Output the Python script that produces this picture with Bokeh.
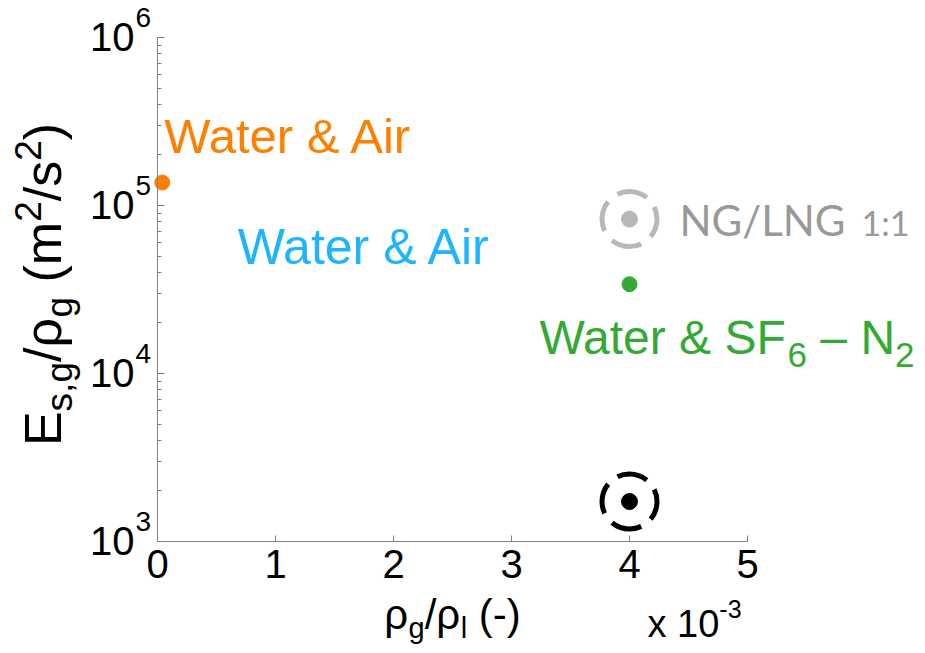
import math
from bokeh.plotting import figure
from bokeh.models import Label, Range1d, FixedTicker
from bokeh.embed import file_html
from bokeh.resources import INLINE

# ---- data (x in units of 1e-3) ----
orange_x = [0.04]
orange_y = [1.37e5]
green_x = [4.0]
green_y = [3.4e4]
gray_x = [4.0]
gray_y = [8.3e4]
black_x = [4.0]
black_y = [1.73e3]
x_ticks = [0, 1, 2, 3, 4, 5]
y_ticks = [1e3, 1e4, 1e5, 1e6]
y_tick_exps = ["3", "4", "5", "6"]

ORANGE = "#FF8000"
BLUE = "#1EB4FF"
GREEN = "#33AA33"
GRAY_TXT = "#999999"
GRAY_CIR = "#B8B8B8"
FONT = "Liberation Sans"

W = {'E': .667, 's': .5, ',': .278, 'g': .556, '/': .278, 'ρ': .578, ' ': .278, '(': .333,
     'm': .833, '2': .556, ')': .333, 'l': .222, '-': .333, 'x': .5, '1': .556, '0': .556,
     '3': .556, 'W': .944, 'a': .556, 't': .278, 'e': .556, 'r': .333, '&': .667, 'S': .667,
     'F': .611, '6': .556, '–': .556, 'N': .722, 'A': .667, 'i': .222}
K = 0.36  # observed: Label anchor with "alphabetic" lies this many em above the baseline


def tw(t, size):
    return sum(W.get(c, .556) for c in t) * size


# canvas and where the axes box sits on it (pixels)
CW, CH = 925, 653
L, R, T, B = 157, 747, 37, 541
X0, X1 = 0.0, 5.0
D0, D1 = 3.0, 6.0
xs = X0 - L / (R - L) * (X1 - X0)
xe = X1 + (CW - R) / (R - L) * (X1 - X0)
ys = D0 - (CH - B) / (B - T) * (D1 - D0)
ye = D1 + T / (B - T) * (D1 - D0)

p = figure(width=CW, height=CH, x_range=Range1d(xs, xe), y_range=Range1d(10 ** ys, 10 ** ye),
           y_axis_type="log", output_backend="svg", toolbar_location=None,
           min_border_left=0, min_border_right=0, min_border_top=0, min_border_bottom=0)
p.grid.visible = False
p.outline_line_color = None
p.background_fill_color = "white"
p.border_fill_color = "white"

ax = p.xaxis[0]
ax.fixed_location = 10 ** D0
ax.bounds = (X0, X1)
ax.ticker = FixedTicker(ticks=x_ticks)
ax.major_tick_in = 6
ax.major_tick_out = 0
ax.minor_tick_line_color = None
ax.axis_line_color = "#808080"
ax.major_tick_line_color = "#808080"
ax.major_label_text_font = FONT
ax.major_label_text_font_size = "40px"
ax.major_label_text_color = "black"
ax.major_label_standoff = 8

ay = p.yaxis[0]
ay.fixed_location = X0
ay.bounds = (10 ** D0, 10 ** D1)
ay.major_tick_in = 7
ay.major_tick_out = 0
ay.minor_tick_in = 4
ay.minor_tick_out = 0
ay.axis_line_color = "#808080"
ay.major_tick_line_color = "#808080"
ay.minor_tick_line_color = "#808080"
ay.major_label_text_alpha = 0

# points
p.scatter(orange_x, orange_y, size=15, color=ORANGE)
p.scatter(green_x, green_y, size=15, color=GREEN)
p.scatter(gray_x, gray_y, size=55, fill_color=None, line_color=GRAY_CIR, line_width=5,
          line_dash="31 12", line_dash_offset=12)
p.scatter(gray_x, gray_y, size=16, color=GRAY_CIR)
p.scatter(black_x, black_y, size=55, fill_color=None, line_color="black", line_width=5,
          line_dash="31 12", line_dash_offset=12)
p.scatter(black_x, black_y, size=16, color="black")


def lab(text, x, y, xo, yo, size, color="black", font=FONT, rotate=False, align="left"):
    """xo/yo place the alphabetic baseline start (pixels, y up) relative to (x, y)."""
    if rotate:
        xo, yo, angle = xo - K * size, yo, math.pi / 2
    else:
        xo, yo, angle = xo, yo + K * size, 0.0
    p.add_layout(Label(x=x, y=y, x_offset=xo, y_offset=yo, text=text, text_font=font,
                       text_font_size=f"{size}px", text_color=color, angle=angle,
                       text_align=align, text_baseline="alphabetic"))


def compose(pieces, x, y, xo, yo, color="black", font=FONT, rotate=False):
    cur = 0.0
    for t, size, shift in pieces:
        s = t.lstrip(" ")
        cur += tw(t[:len(t) - len(s)], size)
        if rotate:
            lab(s, x, y, xo - shift, yo + cur, size, color, font, rotate=True)
        else:
            lab(s, x, y, xo + cur, yo + shift, size, color, font)
        cur += tw(s, size)
    return cur


# y tick labels
for v, e in zip(y_ticks, y_tick_exps):
    lab("10", X0, v, -23, -14, 40, align="right")
    lab(e, X0, v, -22, 10, 28)

# x multiplier
compose([("x 10", 38, 0), ("-3", 25, 20)], X1, 10 ** D0, -100, -96)

# x title
xt = [("ρ", 42, 0), ("g", 29, -9), ("/ρ", 42, 0), ("l", 29, -9), (" (-)", 42, 0)]
tot = sum(tw(t, s) for t, s, _ in xt)
compose(xt, (X0 + X1) / 2, 10 ** D0, -tot / 2, -88)

# y title (rotated)
yt = [("E", 52, 0), ("s,g", 37, -11), ("/ρ", 52, 0), ("g", 37, -11), (" (m", 52, 0), ("2", 37, 20),
      ("/s", 52, 0), ("2", 37, 20), (")", 52, 0)]
tot = sum(tw(t, s) for t, s, _ in yt)
compose(yt, X0, 10 ** D0, -96, (B - 284) - tot / 2, rotate=True)

# annotations
lab("Water & Air", orange_x[0], orange_y[0], 2, 29, 49, ORANGE)
lab("Water & Air", 0.68, 4.4e4, 0, 0, 50, BLUE)
compose([("Water & SF", 48, 0), ("6", 35, -12), (" – N", 48, 0), ("2", 35, -12)],
        green_x[0], green_y[0], -90, -71, GREEN)
lab("NG/LNG", gray_x[0], gray_y[0], 50, -16, 42, GRAY_TXT, font="Lato")
lab("1:1", gray_x[0], gray_y[0], 50 + 182, -16, 34, GRAY_TXT, font="Lato")

open("out.html", "w").write(file_html(p, INLINE))
